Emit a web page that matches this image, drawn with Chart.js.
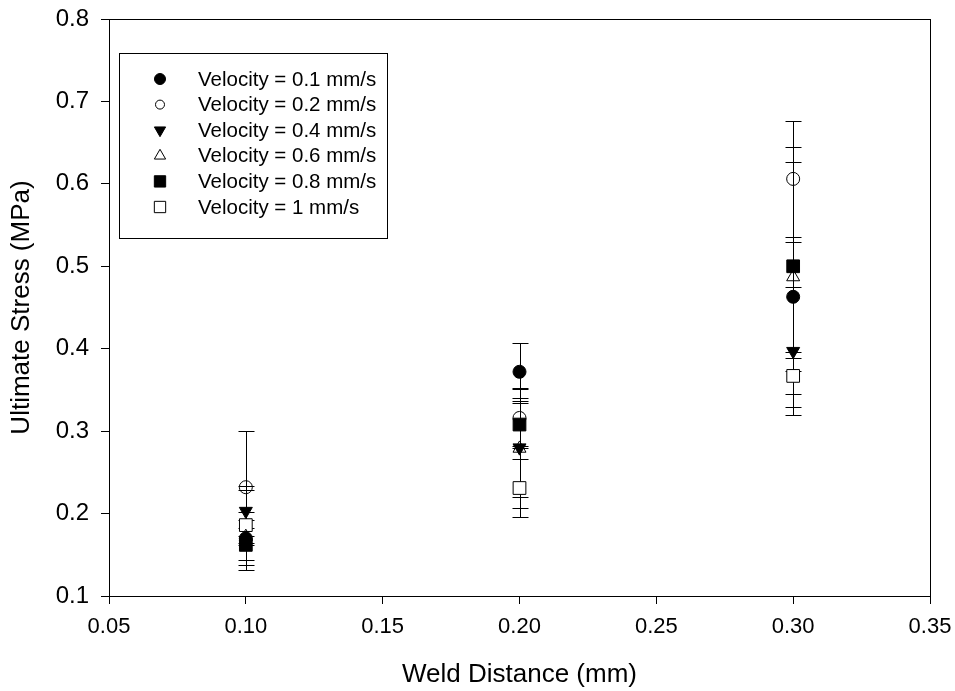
<!DOCTYPE html>
<html>
<head>
<meta charset="utf-8">
<script src="https://cdn.jsdelivr.net/npm/chart.js@4.4.1/dist/chart.umd.min.js"></script>
<style>
  html, body { margin: 0; padding: 0; background: #fff; }
  #wrap { width: 955px; height: 691px; }
</style>
</head>
<body>
<div id="wrap"><canvas id="chart" width="955" height="691"></canvas></div>
<script>
// weld distances (mm) and axis ticks
const xDistance = [0.10, 0.20, 0.30];
const xTicks = [0.05, 0.10, 0.15, 0.20, 0.25, 0.30, 0.35];
const yTicks = [0.1, 0.2, 0.3, 0.4, 0.5, 0.6, 0.7, 0.8];

const seriesLabels = [
  'Velocity = 0.1 mm/s',
  'Velocity = 0.2 mm/s',
  'Velocity = 0.4 mm/s',
  'Velocity = 0.6 mm/s',
  'Velocity = 0.8 mm/s',
  'Velocity = 1 mm/s'
];

// ultimate stress (MPa) and error (+/-) for each velocity
const stress01 = [0.170, 0.372, 0.463];
const error01 = [0.032, 0.035, 0.067];
const stress02 = [0.232, 0.316, 0.606];
const error02 = [0.068, 0.036, 0.070];
const stress04 = [0.203, 0.280, 0.397];
const error04 = [0.030, 0.060, 0.078];
const stress06 = [0.172, 0.279, 0.487];
const error06 = [0.010, 0.072, 0.158];
const stress08 = [0.162, 0.308, 0.500];
const error08 = [0.030, 0.026, 0.127];
const stress10 = [0.186, 0.231, 0.367];
const error10 = [0.042, 0.035, 0.022];

const stressSeries = [stress01, stress02, stress04, stress06, stress08, stress10];
const errorSeries = [error01, error02, error04, error06, error08, error10];

// marker look per series
const markers = [
  { style: 'circle', rotation: 0, fill: '#000', radius: 6.5, legendRadius: 5.5 },
  { style: 'circle', rotation: 0, fill: 'rgba(0,0,0,0)', radius: 6.5, legendRadius: 4.5 },
  { style: 'triangle', rotation: 180, fill: '#000', radius: 7.5, legendRadius: 6.5 },
  { style: 'triangle', rotation: 0, fill: 'rgba(0,0,0,0)', radius: 7.5, legendRadius: 6.5 },
  { style: 'rect', rotation: 0, fill: '#000', radius: 9, legendRadius: 8 },
  { style: 'rect', rotation: 0, fill: '#fff', radius: 9, legendRadius: 8 }
];

const FONT = "'Liberation Sans', Arial, sans-serif";

const errorBars = {
  id: 'errorBars',
  beforeDatasetsDraw(chart, args, opts) {
    const { ctx, scales: { x, y } } = chart;
    ctx.save();
    ctx.strokeStyle = '#000';
    ctx.lineWidth = 1;
    chart.data.datasets.forEach((ds) => {
      ds.data.forEach((p) => {
        const px = Math.round(x.getPixelForValue(p.x)) + 0.5;
        const top = Math.round(y.getPixelForValue(p.y + p.err)) + 0.5;
        const bottom = Math.round(y.getPixelForValue(p.y - p.err)) + 0.5;
        ctx.beginPath();
        ctx.moveTo(px, top);
        ctx.lineTo(px, bottom);
        ctx.moveTo(px - opts.cap, top);
        ctx.lineTo(px + opts.cap, top);
        ctx.moveTo(px - opts.cap, bottom);
        ctx.lineTo(px + opts.cap, bottom);
        ctx.stroke();
      });
    });
    ctx.restore();
  }
};

const frameBox = {
  id: 'frameBox',
  afterDraw(chart) {
    const { ctx, chartArea: a } = chart;
    ctx.save();
    ctx.strokeStyle = '#000';
    ctx.lineWidth = 1;
    ctx.strokeRect(Math.round(a.left) + 0.5, Math.round(a.top) + 0.5,
      Math.round(a.right - a.left), Math.round(a.bottom - a.top));
    ctx.restore();
  }
};

const insideLegend = {
  id: 'insideLegend',
  afterDraw(chart, args, opts) {
    const ctx = chart.ctx;
    ctx.save();
    ctx.strokeStyle = '#000';
    ctx.lineWidth = 1;
    ctx.strokeRect(opts.left + 0.5, opts.top + 0.5, opts.width, opts.height);
    ctx.font = opts.font;
    ctx.textBaseline = 'middle';
    chart.data.datasets.forEach((ds, i) => {
      const y = opts.firstRow + i * opts.rowGap;
      const m = markers[i];
      ctx.fillStyle = m.fill;
      ctx.strokeStyle = '#000';
      ctx.lineWidth = 1;
      Chart.helpers.drawPoint(ctx, {
        pointStyle: m.style, rotation: m.rotation, radius: m.legendRadius, borderWidth: 1
      }, opts.markerX, y);
      ctx.fillStyle = '#000';
      ctx.fillText(ds.label, opts.textX, y + 1);
    });
    ctx.restore();
  }
};

const datasets = seriesLabels.map((label, i) => ({
  label: label,
  data: xDistance.map((x, j) => ({ x: x, y: stressSeries[i][j], err: errorSeries[i][j] })),
  pointStyle: markers[i].style,
  rotation: markers[i].rotation,
  pointRadius: markers[i].radius,
  pointHoverRadius: markers[i].radius,
  backgroundColor: markers[i].fill,
  borderColor: '#000',
  borderWidth: 1,
  showLine: false
}));

// drop the label overflow padding so the plot box sits exactly where layout.padding says
const noEdgePadding = (scale) => {
  scale.paddingTop = 0;
  scale.paddingBottom = 0;
  scale.paddingLeft = 0;
  scale.paddingRight = 0;
};

new Chart(document.getElementById('chart'), {
  type: 'scatter',
  data: { datasets: datasets },
  plugins: [errorBars, frameBox, insideLegend],
  options: {
    responsive: false,
    devicePixelRatio: 1,
    animation: false,
    layout: { padding: { top: 19, right: 25, left: 0, bottom: 0 } },
    plugins: {
      legend: { display: false },
      tooltip: { enabled: false },
      errorBars: { cap: 8 },
      insideLegend: {
        left: 119, top: 53, width: 268, height: 185,
        markerX: 160, textX: 198, firstRow: 79, rowGap: 25.6,
        font: '20.5px ' + FONT
      }
    },
    scales: {
      x: {
        type: 'linear',
        min: 0.05,
        max: 0.35,
        afterBuildTicks: (scale) => { scale.ticks = xTicks.map(v => ({ value: v })); },
        afterFit: (scale) => { scale.height = 95; noEdgePadding(scale); },
        ticks: {
          callback: (v) => Number(v).toFixed(2),
          font: { family: FONT, size: 22 },
          color: '#000',
          padding: 10,
          maxRotation: 0,
          autoSkip: false
        },
        grid: { drawOnChartArea: false, drawTicks: true, tickLength: 8, color: '#000' },
        border: { color: '#000' },
        title: {
          display: true,
          text: 'Weld Distance (mm)',
          font: { family: FONT, size: 26 },
          color: '#000',
          padding: { top: 0, bottom: 1 }
        }
      },
      y: {
        type: 'linear',
        min: 0.1,
        max: 0.8,
        afterBuildTicks: (scale) => { scale.ticks = yTicks.map(v => ({ value: v })); },
        afterFit: (scale) => { scale.width = 109; noEdgePadding(scale); },
        ticks: {
          callback: (v) => Number(v).toFixed(1),
          font: { family: FONT, size: 24 },
          color: '#000',
          padding: 12,
          autoSkip: false
        },
        grid: { drawOnChartArea: false, drawTicks: true, tickLength: 8, color: '#000' },
        border: { color: '#000' },
        title: {
          display: true,
          text: 'Ultimate Stress (MPa)',
          font: { family: FONT, size: 26 },
          color: '#000',
          padding: { top: 6, bottom: 0 }
        }
      }
    }
  }
});
</script>
</body>
</html>
